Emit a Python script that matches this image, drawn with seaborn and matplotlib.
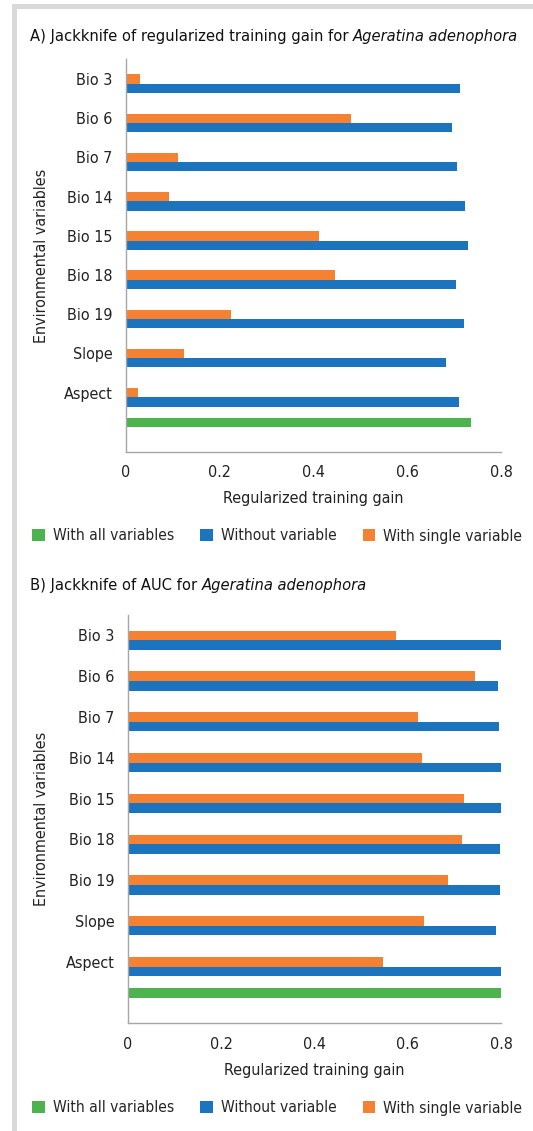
import numpy as np
import pandas as pd
import matplotlib
matplotlib.use('Agg')
import matplotlib.pyplot as plt
import seaborn as sns
from matplotlib import font_manager
from matplotlib.patches import Patch, Rectangle

# Data
variables = ['Bio 3', 'Bio 6', 'Bio 7', 'Bio 14', 'Bio 15', 'Bio 18', 'Bio 19', 'Slope', 'Aspect']
all_label = ' '  # the last row carries no label

gain_without = [0.712, 0.695, 0.706, 0.724, 0.729, 0.705, 0.721, 0.683, 0.711]
gain_single = [0.030, 0.479, 0.110, 0.092, 0.412, 0.446, 0.224, 0.123, 0.025]
gain_all = 0.736

auc_without = [0.799, 0.794, 0.796, 0.800, 0.801, 0.797, 0.797, 0.789, 0.800]
auc_single = [0.574, 0.744, 0.621, 0.631, 0.721, 0.716, 0.687, 0.635, 0.546]
auc_all = 0.801

xticks = [0, 0.2, 0.4, 0.6, 0.8]
xtick_labels = ['0', '0.2', '0.4', '0.6', '0.8']

series_legend = ['With all variables', 'Without variable', 'With single variable']
series_colors = {'With all variables': '#4db34f',
                 'Without variable': '#1b74bd',
                 'With single variable': '#f58232'}
# top-to-bottom order of the bars inside one row
hue_order = ['With all variables', 'With single variable', 'Without variable']

sns.set_style('white')

# the reference uses a condensed face; take one if the system has it
condensed = [f for f in font_manager.fontManager.ttflist
             if 'condensed' in str(f.stretch).lower() or 'Narrow' in f.name or 'Condensed' in f.name]
if condensed:
    plt.rcParams['font.family'] = [condensed[0].name, 'DejaVu Sans']
    plt.rcParams['font.stretch'] = 'condensed'
    fs = 11.2
else:
    plt.rcParams['font.family'] = ['Liberation Sans', 'DejaVu Sans']
    fs = 10

W, H = 533, 1131
fig = plt.figure(figsize=(W / 100, H / 100), dpi=100)

# light grey frame (top and left edges)
frame_col = '#d9d9d9'
fig.add_artist(Rectangle((12 / W, 0), 5 / W, 1 - 4 / H, transform=fig.transFigure,
                         color=frame_col, lw=0))
fig.add_artist(Rectangle((12 / W, 1 - 9 / H), 1 - 12 / W, 5 / H, transform=fig.transFigure,
                         color=frame_col, lw=0))

grey = '#a6a6a6'
txt = '#222222'


def make_df(without, single, all_value):
    rows = []
    for v, w, s in zip(variables, without, single):
        rows.append((v, 'With single variable', s))
        rows.append((v, 'Without variable', w))
    rows.append((all_label, 'With all variables', all_value))
    return pd.DataFrame(rows, columns=['variable', 'series', 'value'])


def draw_panel(rect, df, title_plain, title_italic, title_y, legend_y):
    ax = fig.add_axes(rect)
    order = variables + [all_label]
    sns.barplot(data=df, y='variable', x='value', hue='series', order=order,
                hue_order=hue_order, palette=series_colors, orient='h', saturation=1,
                width=0.71, errorbar=None, legend=False, ax=ax, linewidth=0)
    ax.set_xlim(0, 0.8)
    ax.set_xticks(xticks)
    ax.set_xticklabels(xtick_labels, fontsize=fs + 0.3)
    ax.set_yticks(range(len(order)))
    ax.set_yticklabels(order, fontsize=fs + 0.3)
    ax.set_yticks(np.arange(-0.5, len(order), 1), minor=True)
    ax.tick_params(axis='y', which='major', length=0, pad=9.5, colors=txt)
    ax.tick_params(axis='y', which='minor', length=6, width=1, color=grey, direction='out')
    ax.tick_params(axis='x', which='major', length=6, width=1, color=grey, direction='out',
                   pad=4, labelcolor=txt)
    for side in ['top', 'right']:
        ax.spines[side].set_visible(False)
    for side in ['left', 'bottom']:
        ax.spines[side].set_color(grey)
        ax.spines[side].set_linewidth(1)
    ax.set_ylabel('')
    ax.set_xlabel('Regularized training gain', fontsize=fs + 0.3, color=txt, labelpad=8)

    # axis title on the left
    pos = ax.get_position()
    fig.text(42 / W, (pos.y0 + pos.y1) / 2, 'Environmental variables', rotation=90,
             ha='center', va='center', fontsize=fs + 0.3, color=txt)

    # panel title with italic species name
    t = fig.text(30 / W, 1 - title_y / H, title_plain, ha='left', va='bottom',
                 fontsize=fs + 0.6, color='#111111')
    ax.annotate(title_italic, xy=(1, 0), xycoords=t, ha='left', va='bottom',
                fontsize=fs + 0.6, style='italic', color='#111111')

    handles = [Patch(facecolor=series_colors[s], edgecolor='none') for s in series_legend]
    fig.legend(handles, series_legend, loc='center', ncol=3,
               bbox_to_anchor=(0.52, 1 - legend_y / H), frameon=False,
               fontsize=fs, handlelength=0.8, handleheight=0.8,
               handletextpad=0.5, columnspacing=1.7, borderaxespad=0)
    return ax


df_gain = make_df(gain_without, gain_single, gain_all)
df_auc = make_df(auc_without, auc_single, auc_all)

draw_panel([126 / W, 1 - 451.5 / H, 375 / W, 392 / H], df_gain,
           'A) Jackknife of regularized training gain for ', 'Ageratina adenophora',
           44, 536)
draw_panel([128 / W, 1 - 1023 / H, 373 / W, 408 / H], df_auc,
           'B) Jackknife of AUC for ', 'Ageratina adenophora',
           593, 1108)

fig.savefig('out.png', dpi=100, facecolor='white')
